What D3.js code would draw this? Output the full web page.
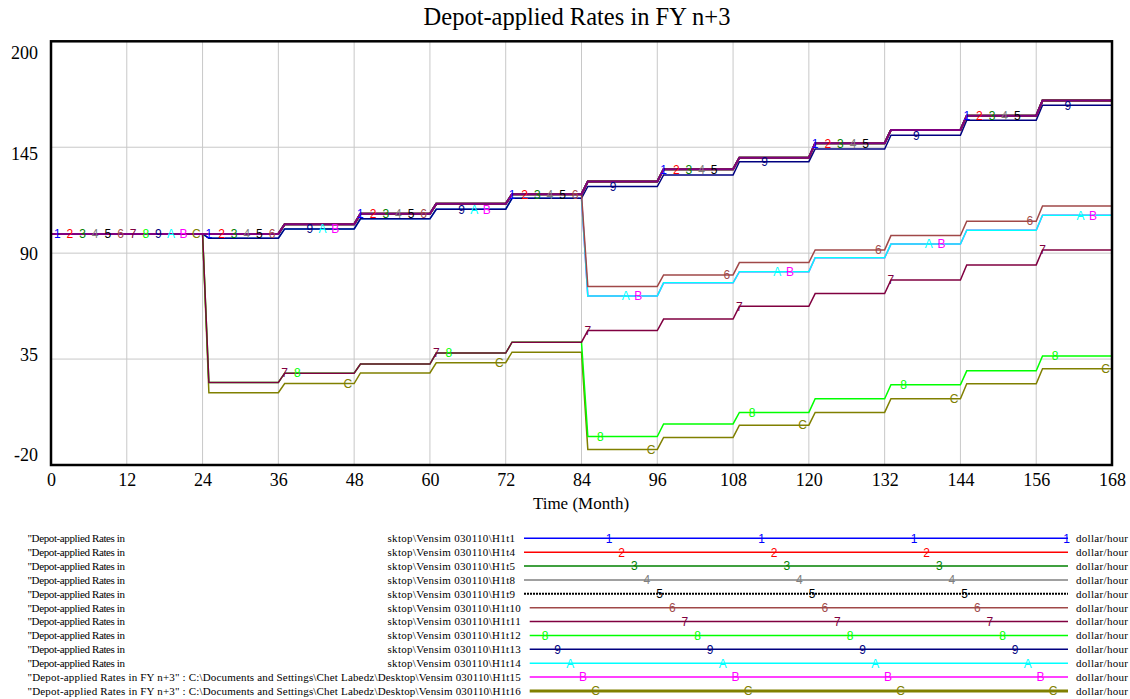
<!DOCTYPE html>
<html>
<head>
<meta charset="utf-8">
<script src="https://cdn.jsdelivr.net/npm/d3@7"></script>
<style>
  body { margin: 0; background: #fff; }
  text { font-family: "Liberation Serif", "Times New Roman", serif; fill: #000; }
  .lbl { font-family: "Liberation Sans", Arial, sans-serif; }
</style>
</head>
<body>
<svg id="chart" width="1130" height="699"></svg>
<script>
// start month of each yearly step (values hold from start+1 to start+12)
const yearStarts = [0, 12, 24, 36, 48, 60, 72, 84, 96, 108, 120, 132, 144, 156];

// dollar/hour, one value per year
const ratesH1t1to9 = [100, 100, 100, 105.0, 110.4, 115.6, 120.6, 127.2, 133.6, 139.6, 147.1, 154.0, 161.4, 169.2];
const ratesH1t10 = [100, 100, 100, 105.0, 110.4, 115.6, 120.6, 72.7, 78.7, 85.1, 91.7, 99.1, 106.6, 114.5];
const ratesH1t11 = [100, 100, 22.9, 27.7, 32.4, 38.1, 43.8, 49.8, 55.8, 62.4, 69.0, 76.1, 83.9, 91.7];
const ratesH1t12 = [100, 100, 22.9, 27.7, 32.4, 38.1, 43.8, -5.2, 1.3, 7.3, 14.4, 21.7, 28.9, 36.6];
const ratesH1t13 = [100, 100, 97.8, 102.6, 107.8, 112.8, 118.5, 124.6, 130.6, 137.5, 144.1, 151.2, 159.0, 166.8];
const ratesH1t14 = [100, 100, 97.8, 102.6, 107.8, 112.8, 118.5, 67.8, 74.6, 80.4, 87.6, 94.7, 101.9, 109.7];
const ratesH1t15 = [100, 100, 97.8, 102.6, 107.8, 112.8, 118.5, 67.8, 74.6, 80.4, 87.6, 94.7, 101.9, 109.7];
const ratesH1t16 = [100, 100, 17.5, 22.3, 27.8, 33.1, 38.6, -11.9, -5.7, 0.7, 7.3, 14.4, 22.2, 30.0];

const seriesKeys = ["1", "2", "3", "4", "5", "6", "7", "8", "9", "A", "B", "C"];
const seriesRuns = ["H1t1", "H1t4", "H1t5", "H1t8", "H1t9", "H1t10", "H1t11", "H1t12", "H1t13", "H1t14", "H1t15", "H1t16"];
const seriesRates = [ratesH1t1to9, ratesH1t1to9, ratesH1t1to9, ratesH1t1to9, ratesH1t1to9,
  ratesH1t10, ratesH1t11, ratesH1t12, ratesH1t13, ratesH1t14, ratesH1t15, ratesH1t16];

const yTicks = [200, 145, 90, 35, -20];
const xTicks = [0, 12, 24, 36, 48, 60, 72, 84, 96, 108, 120, 132, 144, 156, 168];

const colors = ["#0000ff", "#ff0000", "#008000", "#808080", "#000000", "#a04848",
  "#800040", "#00ff00", "#000080", "#00ffff", "#ff00ff", "#808000"];

const svg = d3.select("#chart");
svg.append("rect").attr("width", 1130).attr("height", 699).attr("fill", "#fff");

const x = d3.scaleLinear().domain([0, 168]).range([51, 1112]);
const y = d3.scaleLinear().domain([-20, 200]).range([465, 41.3]);
// vensim spreads the value labels a little inside the frame
const yLab = d3.scaleLinear().domain([-20, 200]).range([455, 52.7]);

// grid
svg.append("g").selectAll("line").data(xTicks.slice(1, -1)).join("line")
  .attr("x1", d => x(d)).attr("x2", d => x(d))
  .attr("y1", y(200)).attr("y2", y(-20))
  .attr("stroke", "#c8c8c8").attr("stroke-width", 1);
svg.append("g").selectAll("line").data(yTicks.slice(1, -1)).join("line")
  .attr("x1", x(0)).attr("x2", x(168))
  .attr("y1", d => y(d)).attr("y2", d => y(d))
  .attr("stroke", "#c8c8c8").attr("stroke-width", 1);

function stepPoints(rates) {
  const pts = [];
  rates.forEach((v, k) => {
    const t0 = yearStarts[k];
    pts.push([k === 0 ? t0 : t0 + 1, v]);
    pts.push([t0 + 12, v]);
  });
  return pts;
}

function rateAt(rates, t) {
  const k = t <= 12 ? 0 : Math.ceil(t / 12) - 1;
  return rates[k];
}

const line = d3.line().x(d => x(d[0])).y(d => y(d[1]));

// drawn last to first, like the original
const order = d3.range(seriesKeys.length).reverse();
svg.append("g").selectAll("path").data(order).join("path")
  .attr("d", i => line(stepPoints(seriesRates[i])))
  .attr("fill", "none")
  .attr("stroke", i => colors[i])
  .attr("stroke-opacity", i => i === 0 ? 0.5 : 1)
  .attr("stroke-width", i => i < 5 ? 2 : 1.5);

// frame
svg.append("rect")
  .attr("x", x(0)).attr("y", y(200))
  .attr("width", x(168) - x(0)).attr("height", y(-20) - y(200))
  .attr("fill", "none").attr("stroke", "#000").attr("stroke-width", 2.5);

// series markers along the lines
const labelTimes = d3.range(0, 84).map(k => ({ t: 1 + 2 * k, i: k % 12 }));
svg.append("g").selectAll("text").data(labelTimes).join("text")
  .attr("class", "lbl")
  .attr("x", d => x(d.t))
  .attr("y", d => y(rateAt(seriesRates[d.i], d.t)))
  .attr("dy", "0.36em")
  .attr("text-anchor", "middle")
  .attr("font-size", 12)
  .style("fill", d => colors[d.i])
  .text(d => seriesKeys[d.i]);

// axes
const xAxis = svg.append("g").attr("transform", `translate(0,${y(-20)})`)
  .call(d3.axisBottom(x).tickValues(xTicks).tickSize(0).tickPadding(8));
xAxis.select(".domain").remove();
xAxis.selectAll("text").attr("font-size", 18).attr("font-family", "Liberation Serif");

const yAxis = svg.append("g").attr("transform", "translate(38,0)")
  .call(d3.axisLeft(yLab).tickValues(yTicks).tickFormat(d => String(d)).tickSize(0).tickPadding(0));
yAxis.select(".domain").remove();
yAxis.selectAll("text").attr("font-size", 18).attr("font-family", "Liberation Serif");

svg.append("text").attr("x", 577).attr("y", 25).attr("text-anchor", "middle")
  .attr("font-size", 24.5).text("Depot-applied Rates in FY n+3");
svg.append("text").attr("x", 581).attr("y", 509).attr("text-anchor", "middle")
  .attr("font-size", 17).text("Time (Month)");

// legend (text stretched to the widths the original renderer gives)
const legFont = 11;
const legY = d3.scaleLinear().domain([0, 11]).range([538.3, 691]);
const legEnd = 1068;
seriesKeys.forEach((key, i) => {
  const yy = legY(i);
  const g = svg.append("g");
  let textEnd;
  if (i < 10) {
    g.append("text").attr("x", 27.5).attr("y", yy).attr("dy", "0.35em")
      .attr("font-size", legFont).attr("textLength", 97.5).attr("lengthAdjust", "spacing")
      .text('"Depot-applied Rates in');
    const w = seriesRuns[i].length > 4 ? 133.2 : 127.5;
    g.append("text").attr("x", 387.5).attr("y", yy).attr("dy", "0.35em")
      .attr("font-size", legFont).attr("textLength", w).attr("lengthAdjust", "spacing")
      .text("sktop\\Vensim 030110\\" + seriesRuns[i]);
    textEnd = 387.5 + w;
  } else {
    g.append("text").attr("x", 27.5).attr("y", yy).attr("dy", "0.35em")
      .attr("font-size", legFont).attr("textLength", 493.2).attr("lengthAdjust", "spacing")
      .text('"Depot-applied Rates in FY n+3" : C:\\Documents and Settings\\Chet Labedz\\Desktop\\Vensim 030110\\' + seriesRuns[i]);
    textEnd = 27.5 + 493.2;
  }
  g.append("line").attr("x1", textEnd + 9).attr("x2", legEnd).attr("y1", yy).attr("y2", yy)
    .attr("stroke", colors[i])
    .attr("stroke-width", i === 11 ? 3 : (i === 4 ? 2 : 1.5))
    .attr("stroke-dasharray", i === 4 ? "2,1" : null);
  d3.range(0, 5).forEach(n => {
    const lx = 456.5 + 12.65 * i + 152.5 * n;
    if (lx < 540 || lx > legEnd) return;
    g.append("text").attr("class", "lbl").attr("x", lx).attr("y", yy).attr("dy", "0.36em")
      .attr("text-anchor", "middle").attr("font-size", 12)
      .style("fill", colors[i]).text(key);
  });
  g.append("text").attr("x", 1076).attr("y", yy).attr("dy", "0.35em")
    .attr("font-size", legFont).attr("textLength", 52).attr("lengthAdjust", "spacing")
    .text("dollar/hour");
});
</script>
</body>
</html>
